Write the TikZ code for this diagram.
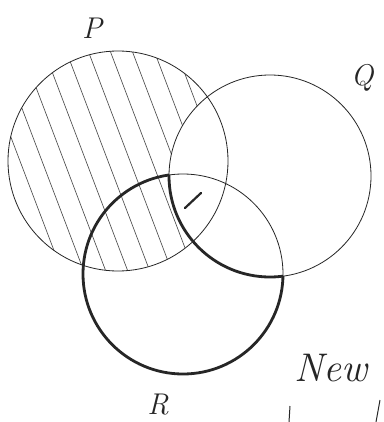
\documentclass[tikz,border=0pt]{standalone}
\begin{document}
\begin{tikzpicture}[x=1pt,y=-1pt,
  outline/.style={draw=black!85,line width=0.8pt},
  heavy/.style={draw=black!85,line width=2.8pt},
  hatch/.style={draw=black!70,line width=0.65pt},
  hand/.style={font=\itshape\fontsize{30}{30}\selectfont,text=black!85,inner sep=0pt}]
\useasboundingbox (0,0) rectangle (383,422);
\fill[white] (0,0) rectangle (383,422);
% hatching of P outside Q
\begin{scope}
  \clip (118,161) circle (110);
  \foreach \c in {-70,-48,...,220} {
    \draw[hatch] (\c,40) -- ({\c+0.38*240},280);
  }
  \fill[white] (270,176) circle (101);
\end{scope}
% circles
\draw[outline] (118,161) circle (110);
\draw[outline] (270,176) circle (101);
\draw[outline] (183,274) circle (100);
% heavy outline of R outside Q
\begin{scope}[even odd rule]
  \clip (-20,-20) rectangle (420,450) (270,176) circle (101);
  \draw[heavy] (183,274) circle (100);
\end{scope}
\begin{scope}
  \clip (183,274) circle (100);
  \draw[heavy] (270,176) circle (101);
\end{scope}
% small mark
\coordinate (m1) at (185,208);
\coordinate (m2) at (201,193);
\draw[line width=2.2pt,black!85,line cap=round] (m1) -- (m2);
% labels
\node[hand] (lP) at (92,28) {P};
\node[hand] (lQ) at (362,78) {Q};
\node[hand] (lR) at (158,405) {R};
\node[hand,font=\itshape\fontsize{40}{40}\selectfont,anchor=base west] (lN) at (294,381) {New};
% cut-off strokes of the next line
\coordinate (s1) at (290,406);
\coordinate (s2) at (289,422);
\coordinate (s3) at (380,400);
\coordinate (s4) at (376,422);
\draw[line width=1pt,black!85] (s1) -- (s2);
\draw[line width=1pt,black!85] (s3) -- (s4);
\end{tikzpicture}
\end{document}
